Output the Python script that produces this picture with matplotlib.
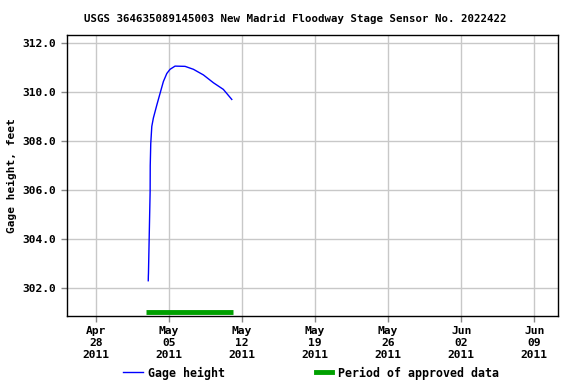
import matplotlib
matplotlib.use("Agg")
import matplotlib.pyplot as plt
import pandas as pd
from matplotlib.lines import Line2D

title = "USGS 364635089145003 New Madrid Floodway Stage Sensor No. 2022422"
ylabel = "Gage height, feet"

# days after 2011-04-28 00:00 and gage height (ft)
day_offsets = [5.00, 5.01, 5.02, 5.18, 5.19, 5.24, 5.34, 5.49, 5.82, 6.14, 6.45,
               6.78, 7.09, 7.57, 8.53, 9.33, 10.29, 11.25, 12.20, 13.01]
gage = [302.3, 302.5, 302.6, 305.95, 307.0, 307.9, 308.6, 308.94, 309.47, 309.96, 310.43,
        310.76, 310.93, 311.06, 311.05, 310.93, 310.70, 310.38, 310.11, 309.70]

approved_start = "2011-05-02 19:00"
approved_end = "2011-05-11 03:00"
approved_level = 301.02

tick_dates = ["2011-04-28", "2011-05-05", "2011-05-12", "2011-05-19",
              "2011-05-26", "2011-06-02", "2011-06-09"]
y_ticks = [302, 304, 306, 308, 310, 312]

base = pd.Timestamp("2011-04-28")
times = [base + pd.Timedelta(days=d) for d in day_offsets]

plt.rcParams['font.family'] = ['DejaVu Sans Mono']
plt.rcParams['font.weight'] = 'bold'

fig = plt.figure(figsize=(5.76, 3.84), dpi=100)
ax = fig.add_axes([67/576, 1-316/384, (558-67)/576, (316-35)/384])

ax.plot(times, gage, color='#0000ff', lw=1)
ax.plot([pd.Timestamp(approved_start), pd.Timestamp(approved_end)],
        [approved_level, approved_level], color='#00a000', lw=3.5, solid_capstyle='butt')

ax.set_xlim(pd.Timestamp("2011-04-25 05:00"), pd.Timestamp("2011-06-11 07:00"))
ax.set_ylim(300.86, 312.33)
ax.set_xticks([pd.Timestamp(t) for t in tick_dates])
ax.set_xticklabels([pd.Timestamp(t).strftime("%b\n%d\n%Y") for t in tick_dates],
                   fontsize=8.1, fontweight='bold')
ax.set_yticks(y_ticks)
ax.set_yticklabels([f"{v:.1f}" for v in y_ticks], fontsize=8.1, fontweight='bold')
ax.grid(True, color='#c8c8c8', lw=1)
ax.set_axisbelow(True)
ax.tick_params(direction='out', length=4, width=1, color='#888888')
for s in ax.spines.values():
    s.set_color('black')
    s.set_linewidth(1)

ax.set_ylabel(ylabel, fontsize=8, fontweight='bold')
fig.text(0.5 + 7/576, 1-19/384, title, ha='center', va='center', fontsize=7.75, fontweight='bold')

leg1 = fig.legend([Line2D([], [], color='#0000ff', lw=1)], ["Gage height"],
                  loc='center left', bbox_to_anchor=(123/576, 1-373/384),
                  frameon=False, fontsize=8.4, handlelength=1.7, handletextpad=0.4,
                  borderpad=0, borderaxespad=0)
leg2 = fig.legend([Line2D([], [], color='#00a000', lw=3.5)], ["Period of approved data"],
                  loc='center left', bbox_to_anchor=(316/576, 1-373/384),
                  frameon=False, fontsize=8.4, handlelength=1.4, handletextpad=0.5,
                  borderpad=0, borderaxespad=0)

fig.savefig("out.png", dpi=100)
